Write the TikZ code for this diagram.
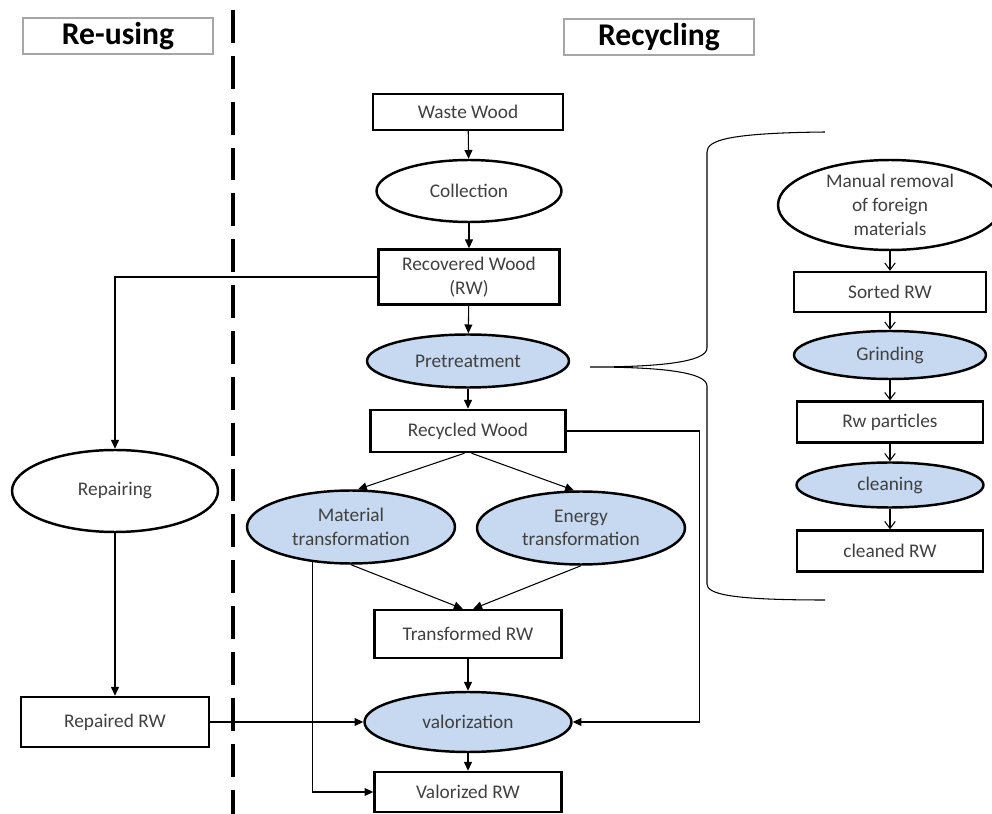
\documentclass[tikz,border=0pt]{standalone}
\usepackage{fontspec}
\setmainfont{Carlito}
\usepackage{tikz}
\usetikzlibrary{shapes.geometric,arrows.meta}
\definecolor{procblue}{HTML}{C6D9F1}
\definecolor{txtgray}{HTML}{404040}
\definecolor{headgray}{HTML}{A6A6A6}

\begin{document}
\begin{tikzpicture}[x=0.02cm,y=-0.02cm,
    font=\fontsize{11}{13.5}\selectfont,text=txtgray,
    every node/.style={align=center,inner sep=0pt},
    header/.style={draw=headgray,line width=0.6pt,text=black,minimum width=3.8cm,minimum height=0.72cm,font=\fontsize{18}{20}\selectfont\bfseries},
    box/.style={draw,line width=1.4pt,rectangle},
    proc/.style={draw,line width=1.4pt,ellipse,fill=white},
    bproc/.style={proc,fill=procblue},
    arr/.style={line width=0.6pt,-{Triangle[length=5pt,width=4.5pt]}},
    barb/.style={line width=0.6pt,-{Straight Barb[length=4pt,width=6pt]}},
    divider/.style={line width=2.2pt,dash pattern=on 18.7pt off 7.4pt},
    bracket/.style={line width=0.6pt}]
    \useasboundingbox (0,0) rectangle (992,814);
    \node[header] (reuse) at (118,36) {Re-using};
    \node[header] (recycle) at (659,37) {Recycling};
    \draw[divider] (233,10) -- (233,814);
    \node[box,minimum width=3.8cm,minimum height=0.72cm] (waste) at (468,112) {Waste Wood};
    \node[proc,minimum width=3.7cm,minimum height=1.24cm] (collect) at (469,191) {Collection};
    \node[box,minimum width=3.62cm,minimum height=1.1cm] (recov) at (469,277) {Recovered Wood\\(RW)};
    \node[bproc,minimum width=4.04cm,minimum height=1.06cm] (pretreat) at (468,361) {Pretreatment};
    \node[box,minimum width=3.9cm,minimum height=0.84cm] (recyc) at (468,431) {Recycled Wood};
    \node[bproc,minimum width=4.16cm,minimum height=1.46cm] (mat) at (351,527) {Material\\transformation};
    \node[bproc,minimum width=4.16cm,minimum height=1.46cm] (energy) at (581,528) {Energy\\transformation};
    \node[box,minimum width=3.74cm,minimum height=0.96cm] (trans) at (468,634) {Transformed RW};
    \node[bproc,minimum width=4.14cm,minimum height=1.2cm] (valor) at (468,722) {valorization};
    \node[box,minimum width=3.74cm,minimum height=0.8cm] (valorized) at (468,792) {Valorized RW};
    \node[proc,minimum width=4.12cm,minimum height=1.64cm] (repairing) at (115,491) {Repairing};
    \node[box,minimum width=3.76cm,minimum height=1.0cm] (repaired) at (115,722) {Repaired RW};
    \node[proc,minimum width=4.48cm,minimum height=1.8cm] (manual) at (890,205) {Manual removal\\of foreign\\materials};
    \node[box,minimum width=3.84cm,minimum height=0.8cm] (sorted) at (890,292) {Sorted RW};
    \node[bproc,minimum width=3.84cm,minimum height=0.96cm] (grinding) at (890,355) {Grinding};
    \node[box,minimum width=3.72cm,minimum height=0.82cm] (particles) at (890,422) {Rw particles};
    \node[bproc,minimum width=3.74cm,minimum height=0.9cm] (cleaning) at (890,485) {cleaning};
    \node[box,minimum width=3.72cm,minimum height=0.82cm] (cleaned) at (890,551) {cleaned RW};
    \draw[arr] (waste) -- (collect);
    \draw[arr] (collect) -- (recov);
    \draw[arr] (recov) -- (pretreat);
    \draw[arr] (pretreat) -- (recyc);
    \draw[arr] (recov.west) -| (repairing.north);
    \draw[arr] (repairing) -- (repaired);
    \draw[arr] (repaired.east) -- (valor.west);
    \draw[arr] ([xshift=-2pt]recyc.south) -- ([xshift=4pt]mat.north);
    \draw[arr] ([xshift=2pt]recyc.south) -- ([xshift=-4pt]energy.north);
    \draw[arr] (mat.south) -- ([xshift=-3pt]trans.north);
    \draw[arr] (energy.south) -- ([xshift=3pt]trans.north);
    \draw[arr] (trans) -- (valor);
    \draw[arr] (valor) -- (valorized);
    \draw[arr] (mat.222) |- (valorized.west);
    \draw[arr] (recyc.east) -- ++(133,0) |- (valor.east);
    \draw[barb] (manual) -- (sorted);
    \draw[barb] (sorted) -- (grinding);
    \draw[barb] (grinding) -- (particles);
    \draw[barb] (particles) -- (cleaning);
    \draw[barb] (cleaning) -- (cleaned);
    \draw[bracket] (825,132) .. controls (730,133) and (707,140) .. (707,152) -- (707,348)
        .. controls (707,362) and (660,367) .. (590,367)
        .. controls (660,367) and (707,372) .. (707,386) -- (707,584)
        .. controls (707,594) and (730,600) .. (825,600);
\end{tikzpicture}
\end{document}
